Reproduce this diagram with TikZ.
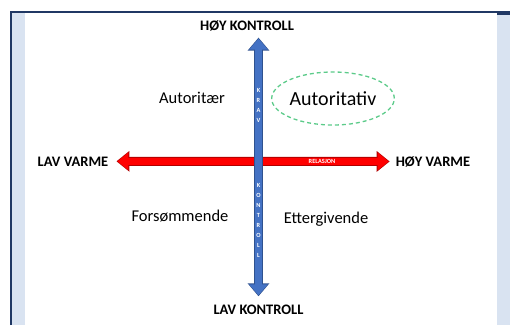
\documentclass[tikz,border=0pt]{standalone}
\usepackage{fontspec}
\setmainfont{Carlito}
\usetikzlibrary{arrows.meta}
\usetikzlibrary{calc}
\usetikzlibrary{shapes}

\definecolor{frameblue}{HTML}{203864}
\definecolor{stripblue}{HTML}{D9E3F1}
\definecolor{arrowblue}{HTML}{4472C4}
\definecolor{arrowblueedge}{HTML}{2F528F}
\definecolor{arrowred}{HTML}{FF0000}
\definecolor{arrowrededge}{HTML}{B00000}
\definecolor{ellipsegreen}{HTML}{5CCB8A}

\begin{document}
\begin{tikzpicture}[x=1pt, y=-1pt,
        axis_style/.style={font=\fontsize{14.5}{17}\selectfont\bfseries, inner sep=0pt, anchor=base},
        field_style/.style={font=\fontsize{16.5}{20}\selectfont, inner sep=0pt, anchor=base},
        main_style/.style={ellipse, draw=ellipsegreen, dash pattern=on 4pt off 3pt, line width=1.3pt,
            minimum width=122pt, minimum height=53pt, inner sep=0pt, font=\fontsize{20}{24}\selectfont},
        tag_style/.style={text=white, font=\fontsize{6.3}{10}\selectfont\bfseries, align=center, inner sep=0pt},
        blue_outline/.style={draw=arrowblueedge, line width=8.4pt,
            {Triangle[length=13pt,width=21pt]}-{Triangle[length=13pt,width=21pt]}},
        blue_fill/.style={draw=arrowblue, line width=6.4pt,
            {Triangle[length=11pt,width=18pt]}-{Triangle[length=11pt,width=18pt]}},
        red_outline/.style={draw=arrowrededge, line width=9pt,
            {Triangle[length=13pt,width=20pt]}-{Triangle[length=13pt,width=20pt]}},
        red_fill/.style={draw=arrowred, line width=7pt,
            {Triangle[length=11pt,width=17pt]}-{Triangle[length=11pt,width=17pt]}}]

        \useasboundingbox (0,0) rectangle (510,325);
        \fill[stripblue] (12,13) rectangle (25,325);
        \fill[stripblue] (497,13) rectangle (510,325);
        \draw[frameblue, line width=2pt] (11,325) -- (11,12) -- (510,12);
        \fill[frameblue] (497,11) rectangle (510,14.5);

        \node [axis_style](hoy_kontroll) at (247,30.7) {HØY KONTROLL};
        \node [axis_style](lav_kontroll) at (258.5,314) {LAV KONTROLL};
        \node [axis_style](lav_varme) at (73,166) {LAV VARME};
        \node [axis_style](hoy_varme) at (433,166) {HØY VARME};

        \node [field_style](autoritaer) at (192,103.3) {Autoritær};
        \node [main_style](autoritativ) at (333,98.5) {Autoritativ};
        \node [field_style](forsommende) at (180,221) {Forsømmende};
        \node [field_style](ettergivende) at (326,223) {Ettergivende};

        \draw [red_outline, shorten <=8pt, shorten >=6pt] (lav_varme.east) -- (hoy_varme.west);
        \draw [red_fill, shorten <=9pt, shorten >=7pt] (lav_varme.east) -- (hoy_varme.west);
        \draw [blue_outline, shorten <=8pt, shorten >=6pt] (lav_kontroll.north) -- (lav_kontroll.north |- hoy_kontroll.south);
        \draw [blue_fill, shorten <=9pt, shorten >=7pt] (lav_kontroll.north) -- (lav_kontroll.north |- hoy_kontroll.south);

        \node [tag_style](krav) at (258.5,105) {K\\R\\A\\V};
        \node [tag_style](kontroll) at (258.5,220) {K\\O\\N\\T\\R\\O\\L\\L};
        \node [tag_style](relasjon) at (322,161) {RELASJON};
\end{tikzpicture}
\end{document}
